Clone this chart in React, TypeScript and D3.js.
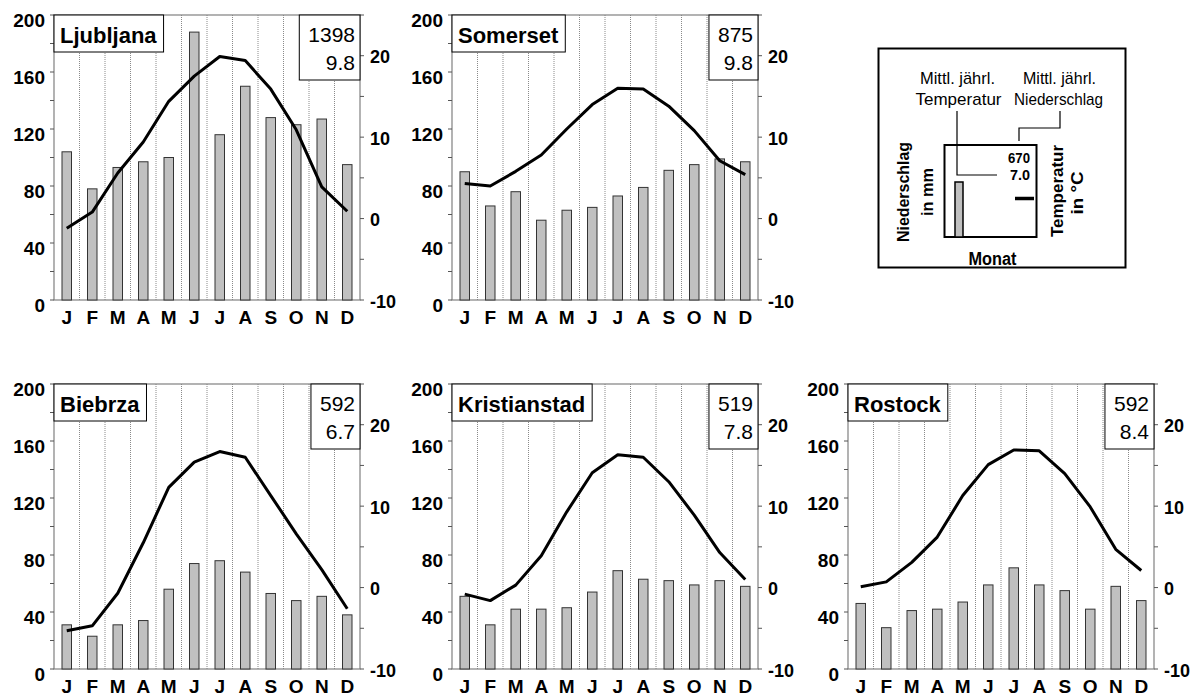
import * as d3 from "d3";
import React, { useEffect, useRef } from "react";

// month labels (duplicates, so bands are keyed by index)
const months = ["J", "F", "M", "A", "M", "J", "J", "A", "S", "O", "N", "D"];

const stations = ["Ljubljana", "Somerset", "Biebrza", "Kristianstad", "Rostock"];
const annualPrecip = ["1398", "875", "592", "519", "592"];
const annualTemp = ["9.8", "9.8", "6.7", "7.8", "8.4"];

// monthly precipitation, mm
const ljubljanaPrecip = [104, 78, 93, 97, 100, 188, 116, 150, 128, 123, 127, 95];
const somersetPrecip = [90, 66, 76, 56, 63, 65, 73, 79, 91, 95, 99, 97];
const biebrzaPrecip = [31, 23, 31, 34, 56, 74, 76, 68, 53, 48, 51, 38];
const kristianstadPrecip = [51, 31, 42, 42, 43, 54, 69, 63, 62, 59, 62, 58];
const rostockPrecip = [46, 29, 41, 42, 47, 59, 71, 59, 55, 42, 58, 48];

// monthly mean temperature, °C
const ljubljanaTemp = [-1.2, 0.8, 5.6, 9.4, 14.4, 17.5, 19.9, 19.4, 15.9, 10.9, 3.9, 0.9];
const somersetTemp = [4.3, 4.0, 5.8, 7.8, 11.0, 14.0, 16.0, 15.9, 13.8, 10.8, 7.1, 5.4];
const biebrzaTemp = [-5.3, -4.7, -0.7, 5.5, 12.3, 15.4, 16.7, 16.0, 11.3, 6.6, 2.2, -2.6];
const kristianstadTemp = [-0.8, -1.6, 0.3, 3.9, 9.3, 14.1, 16.3, 16.0, 13.0, 8.9, 4.3, 1.0];
const rostockTemp = [0.1, 0.7, 3.1, 6.2, 11.3, 15.1, 16.9, 16.8, 14.0, 9.9, 4.7, 2.1];

const precipSeries = [ljubljanaPrecip, somersetPrecip, biebrzaPrecip, kristianstadPrecip, rostockPrecip];
const tempSeries = [ljubljanaTemp, somersetTemp, biebrzaTemp, kristianstadTemp, rostockTemp];

const precipTicks = [0, 40, 80, 120, 160, 200];
const tempTicks = [-10, 0, 10, 20];

// legend sample
const legendPrecip = "670";
const legendTemp = "7.0";

const W = 1196;
const H = 699;
const FONT = "'Liberation Sans', Arial, Helvetica, sans-serif";
const NARROW = "'Liberation Sans Narrow', 'Arial Narrow', 'Liberation Sans', Arial, sans-serif";

const colX = [54, 452, 848];
const rowY = [15, 384];
const panelPos = [
	[0, 0],
	[1, 0],
	[0, 1],
	[1, 1],
	[2, 1],
];
const pw = 306;
const ph = 285;

function drawPanel(g: d3.Selection<SVGGElement, unknown, null, undefined>, k: number) {
	const x = d3.scaleBand<number>().domain(d3.range(12)).range([0, pw]).padding(0);
	const yP = d3.scaleLinear().domain([0, 200]).range([ph, 0]);
	const yT = d3.scaleLinear().domain([-10, 25]).range([ph, 0]);
	const cx = (i: number) => (x(i) ?? 0) + x.bandwidth() / 2;
	const barW = 9.5;

	// dotted month separators
	g.selectAll("line.grid")
		.data(d3.range(1, 12))
		.join("line")
		.attr("class", "grid")
		.attr("x1", (d) => x(d) ?? 0)
		.attr("x2", (d) => x(d) ?? 0)
		.attr("y1", 0)
		.attr("y2", ph)
		.attr("stroke", "#8a8a8a")
		.attr("stroke-width", 1)
		.attr("stroke-dasharray", "1,1");

	// frame
	g.append("rect")
		.attr("x", 0)
		.attr("y", 0)
		.attr("width", pw)
		.attr("height", ph)
		.attr("fill", "none")
		.attr("stroke", "#808080")
		.attr("stroke-width", 1.2);

	// left ticks + labels
	g.selectAll("line.lt")
		.data(d3.range(0, 201, 20))
		.join("line")
		.attr("class", "lt")
		.attr("x1", -4)
		.attr("x2", 0)
		.attr("y1", (d) => yP(d))
		.attr("y2", (d) => yP(d))
		.attr("stroke", "#555");
	g.selectAll("text.ll")
		.data(precipTicks)
		.join("text")
		.attr("class", "ll")
		.attr("x", -9)
		.attr("y", (d) => yP(d) + 11.5)
		.attr("text-anchor", "end")
		.attr("font-family", FONT)
		.attr("font-weight", "bold")
		.attr("font-size", 19)
		.text((d) => d);

	// right ticks + labels
	g.selectAll("line.rt")
		.data(d3.range(-10, 26, 5))
		.join("line")
		.attr("class", "rt")
		.attr("x1", pw)
		.attr("x2", pw + 4)
		.attr("y1", (d) => yT(d))
		.attr("y2", (d) => yT(d))
		.attr("stroke", "#555");
	g.selectAll("text.rl")
		.data(tempTicks)
		.join("text")
		.attr("class", "rl")
		.attr("x", pw + 10)
		.attr("y", (d) => yT(d) + 7.5)
		.attr("font-family", FONT)
		.attr("font-weight", "bold")
		.attr("font-size", 18)
		.text((d) => d);

	// month labels
	g.selectAll("text.ml")
		.data(months)
		.join("text")
		.attr("class", "ml")
		.attr("x", (_d, i) => cx(i))
		.attr("y", ph + 24)
		.attr("text-anchor", "middle")
		.attr("font-family", FONT)
		.attr("font-weight", "bold")
		.attr("font-size", 19)
		.text((d) => d);

	// precipitation bars
	g.selectAll("rect.bar")
		.data(precipSeries[k])
		.join("rect")
		.attr("class", "bar")
		.attr("x", (_d, i) => cx(i) - barW / 2)
		.attr("width", barW)
		.attr("y", (d) => yP(d))
		.attr("height", (d) => ph - yP(d))
		.attr("fill", "#c0c0c0")
		.attr("stroke", "#333")
		.attr("stroke-width", 1);

	// temperature line
	const line = d3
		.line<number>()
		.x((_d, i) => cx(i))
		.y((d) => yT(d));
	g.append("path")
		.datum(tempSeries[k])
		.attr("d", line)
		.attr("fill", "none")
		.attr("stroke", "#000")
		.attr("stroke-width", 3)
		.attr("stroke-linejoin", "round");

	// station name box
	const tRect = g.append("rect").attr("x", 0).attr("y", 0).attr("height", 37).attr("fill", "#fff").attr("stroke", "#000");
	const tText = g
		.append("text")
		.attr("x", 6)
		.attr("y", 28)
		.attr("font-family", FONT)
		.attr("font-weight", "bold")
		.attr("font-size", 22)
		.text(stations[k]);
	const tw = (tText.node() as SVGTextElement).getComputedTextLength();
	tRect.attr("width", tw + 13);

	// annual values box
	const vRect = g.append("rect").attr("y", 0).attr("height", 65).attr("fill", "#fff").attr("stroke", "#000");
	const vals = [annualPrecip[k], annualTemp[k]];
	let vw = 0;
	vals.forEach((v, i) => {
		const t = g
			.append("text")
			.attr("x", pw - 5)
			.attr("y", 27 + i * 28)
			.attr("text-anchor", "end")
			.attr("font-family", FONT)
			.attr("font-size", 21)
			.text(v);
		vw = Math.max(vw, (t.node() as SVGTextElement).getComputedTextLength());
	});
	vRect.attr("x", pw - vw - 14).attr("width", vw + 14);
}

function drawLegend(svg: d3.Selection<SVGSVGElement, unknown, null, undefined>) {
	const g = svg.append("g");
	g.append("rect")
		.attr("x", 878.5)
		.attr("y", 48.5)
		.attr("width", 247)
		.attr("height", 219)
		.attr("fill", "#fff")
		.attr("stroke", "#000")
		.attr("stroke-width", 2);

	const label = (
		txt: string,
		xx: number,
		yy: number,
		len: number,
		size: number,
		bold: boolean,
		rotate = false,
		anchor = "middle",
	) => {
		const t = g
			.append("text")
			.attr("transform", `translate(${xx},${yy})${rotate ? " rotate(-90)" : ""}`)
			.attr("text-anchor", anchor)
			.attr("font-family", NARROW)
			.attr("font-size", size)
			.attr("font-weight", bold ? "bold" : "normal")
			.attr("textLength", len)
			.attr("lengthAdjust", "spacingAndGlyphs")
			.text(txt);
		return t;
	};

	label("Mittl. jährl.", 957.5, 84, 75, 17, false);
	label("Temperatur", 958.5, 105, 86, 17, false);
	label("Mittl. jährl.", 1059.5, 84, 73, 17, false);
	label("Niederschlag", 1058.5, 105, 89, 17, false);

	// leader lines
	g.append("path")
		.attr("d", "M957,111V175H997")
		.attr("fill", "none")
		.attr("stroke", "#000")
		.attr("stroke-width", 1.2);
	g.append("path")
		.attr("d", "M1060,111V128H1019V141")
		.attr("fill", "none")
		.attr("stroke", "#000")
		.attr("stroke-width", 1.2);

	// mini plot
	g.append("rect")
		.attr("x", 944.5)
		.attr("y", 145)
		.attr("width", 92)
		.attr("height", 92)
		.attr("fill", "none")
		.attr("stroke", "#000")
		.attr("stroke-width", 2);
	g.append("rect")
		.attr("x", 955)
		.attr("y", 182)
		.attr("width", 8)
		.attr("height", 55)
		.attr("fill", "#c0c0c0")
		.attr("stroke", "#000")
		.attr("stroke-width", 1.5);
	g.append("line")
		.attr("x1", 1015)
		.attr("x2", 1034)
		.attr("y1", 198.5)
		.attr("y2", 198.5)
		.attr("stroke", "#000")
		.attr("stroke-width", 3.5);

	label(legendPrecip, 1030, 163, 22, 15, true, false, "end");
	label(legendTemp, 1030, 180, 20, 15, true, false, "end");

	label("Niederschlag", 909, 192, 100, 17, true, true);
	label("in mm", 933, 192, 48, 17, true, true);
	label("Temperatur", 1063, 191, 92, 17, true, true);
	label("in °C", 1083, 193, 43, 17, true, true);
	label("Monat", 992.5, 265, 48, 18, true);
}

const App = () => {
	const svgRef = useRef<SVGSVGElement>(null);

	useEffect(() => {
		if (!svgRef.current) return;
		const svg = d3.select(svgRef.current);
		svg.selectAll("*").remove();
		svg.append("rect").attr("width", W).attr("height", H).attr("fill", "#fff");

		stations.forEach((_s, k) => {
			const [c, r] = panelPos[k];
			const g = svg.append("g").attr("transform", `translate(${colX[c]},${rowY[r]})`);
			drawPanel(g, k);
		});

		drawLegend(svg);
	}, []);

	return (
		<svg
			ref={svgRef}
			width={W}
			height={H}
			viewBox={`0 0 ${W} ${H}`}
			style={{ position: "absolute", left: 0, top: 0, display: "block" }}
		/>
	);
};

export default App;
